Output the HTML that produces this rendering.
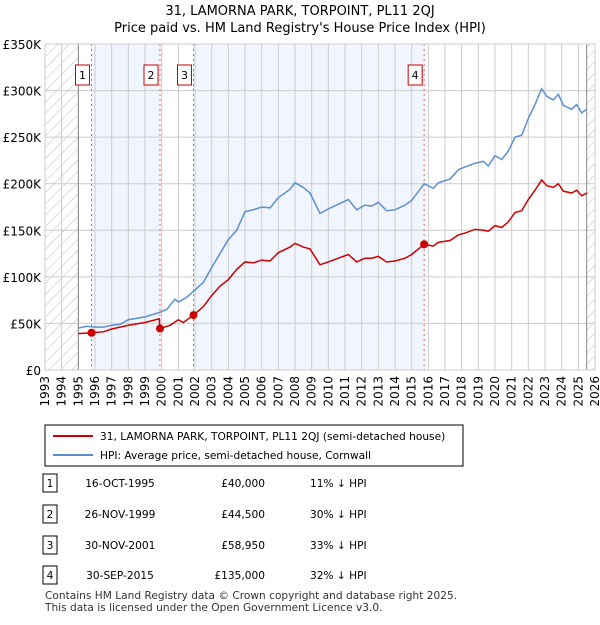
<!DOCTYPE html>
<html><head><meta charset="utf-8"><style>
body{margin:0;background:#fff;font-family:"Liberation Sans","DejaVu Sans",sans-serif;}
svg text{font-family:"DejaVu Sans","Liberation Sans",sans-serif;}
</style></head><body>
<svg id="c" width="600" height="620" xmlns="http://www.w3.org/2000/svg">
<defs><pattern id="h" width="8" height="8" patternUnits="userSpaceOnUse" patternTransform="rotate(45)"><line x1="0" y1="0" x2="0" y2="8" stroke="#bbb" stroke-width="1"/></pattern></defs>
<text x="300" y="15" text-anchor="middle" font-size="13">31, LAMORNA PARK, TORPOINT, PL11 2QJ</text>
<text x="300" y="32" text-anchor="middle" font-size="13">Price paid vs. HM Land Registry's House Price Index (HPI)</text>
<g id="plot"></g>
<g>
<rect x="45" y="425" width="418" height="41" fill="#fff" stroke="#000" stroke-width="1"/>
<line x1="53" y1="436" x2="93" y2="436" stroke="#cc0000" stroke-width="2"/>
<text x="100" y="440" font-size="10.6">31, LAMORNA PARK, TORPOINT, PL11 2QJ (semi-detached house)</text>
<line x1="53" y1="455" x2="93" y2="455" stroke="#5b8fd0" stroke-width="2"/>
<text x="100" y="459" font-size="10.6">HPI: Average price, semi-detached house, Cornwall</text>
</g>
<g id="tbl" font-size="10.6"></g>
<text x="45" y="599" font-size="10.6" fill="#333">Contains HM Land Registry data © Crown copyright and database right 2025.</text>
<text x="45" y="611" font-size="10.6" fill="#333">This data is licensed under the Open Government Licence v3.0.</text>
</svg>
<script>
const hpiYears=[1995,1995.5,1996,1996.5,1997,1997.5,1998,1999,1999.9,2000.3,2000.8,2001,2001.5,2002,2002.5,2003,2003.5,2004,2004.5,2005,2005.5,2006,2006.5,2007,2007.7,2008,2008.5,2008.9,2009.5,2010,2010.6,2011.2,2011.7,2012.2,2012.6,2013,2013.5,2014,2014.6,2015,2015.75,2016.3,2016.6,2017.3,2017.8,2018.2,2018.8,2019.3,2019.6,2020,2020.4,2020.8,2021.2,2021.6,2022,2022.4,2022.8,2023.1,2023.5,2023.8,2024.1,2024.6,2024.9,2025.2,2025.5];
const hpiValues=[45,47,46,46,48,49,54,57,62,65,76,73,78,86,94,110,125,140,150,170,172,175,174,185,194,201,196,190,168,173,178,183,172,177,176,180,171,172,177,182,200,195,201,205,215,218,222,224,219,230,226,235,250,252,270,285,302,294,290,296,284,280,285,276,280];
const priceYears=[1995,1995.79,1996.5,1997,1998,1999,1999.85,1999.9,2000.5,2001,2001.3,2001.91,2002.5,2003,2003.5,2004,2004.5,2005,2005.5,2006,2006.5,2007,2007.7,2008,2008.5,2008.9,2009.5,2010,2010.6,2011.2,2011.7,2012.2,2012.6,2013,2013.5,2014,2014.6,2015,2015.75,2016.3,2016.6,2017.3,2017.8,2018.2,2018.8,2019.3,2019.6,2020,2020.4,2020.8,2021.2,2021.6,2022,2022.4,2022.8,2023.1,2023.5,2023.8,2024.1,2024.6,2024.9,2025.2,2025.5];
const priceValues=[39,40,41,44,48,51,55,44.5,48,54,51,59,68,80,90,97,108,116,115,118,117,126,132,136,132,130,113,116,120,124,116,120,120,122,116,117,120,124,135,133,137,139,145,147,151,150,149,155,153,159,169,171,183,193,204,198,196,200,192,190,193,187,190];
const saleYears=[1995.79,1999.9,2001.91,2015.75];
const salePrices=[40,44.5,58.95,135];
const saleLabels=["1","2","3","4"];
const saleDates=["16-OCT-1995","26-NOV-1999","30-NOV-2001","30-SEP-2015"];
const salePriceText=["£40,000","£44,500","£58,950","£135,000"];
const saleHpiText=["11% ↓ HPI","30% ↓ HPI","33% ↓ HPI","32% ↓ HPI"];
const yTicks=[0,50,100,150,200,250,300,350];
const yTickLabels=["£0","£50K","£100K","£150K","£200K","£250K","£300K","£350K"];
const X0=45,X1=595,Y0=370,Y1=44;
const x=t=>X0+(t-1993)/33*(X1-X0);
const y=v=>Y0-v/350*(Y0-Y1);
const NS="http://www.w3.org/2000/svg";
const P=document.getElementById('plot');
function mk(tag,a,par){const e=document.createElementNS(NS,tag);for(const k in a)e.setAttribute(k,a[k]);(par||P).appendChild(e);return e;}
let r=mk('rect',{x:X0,y:Y1,width:X1-X0,height:Y0-Y1,fill:'#fff'});


[[0,1],[2,3]].forEach(([a,b])=>{const s=mk('rect',{x:x(saleYears[a]),y:Y1,width:x(saleYears[b])-x(saleYears[a]),height:Y0-Y1,fill:'#eef3fc',opacity:0.8});

});
let h1=mk('rect',{x:X0,y:Y1,width:x(1995)-X0,height:Y0-Y1,fill:'url(#h)'});


let h2=mk('rect',{x:x(2025.5),y:Y1,width:X1-x(2025.5),height:Y0-Y1,fill:'url(#h)'});


for(let yr=1993;yr<=2026;yr++){const l=mk('line',{x1:x(yr),x2:x(yr),y1:Y1,y2:Y0,stroke:'#ccc','stroke-width':1});


const t=mk('text',{x:0,y:0,'font-size':12,'text-anchor':'end',transform:`translate(${x(yr)+4},${Y0+6}) rotate(-90)`});t.textContent=yr;

}
yTicks.forEach((v,i)=>{const l=mk('line',{x1:X0,x2:X1,y1:y(v),y2:y(v),stroke:'#ccc','stroke-width':1});


const t=mk('text',{x:X0-4,y:y(v)+5,'font-size':12,'text-anchor':'end'});t.textContent=yTickLabels[i];

});
[x(1995),x(2025.5)].forEach(xx=>{const l=mk('line',{x1:xx,x2:xx,y1:Y1,y2:Y0,stroke:'#888','stroke-width':1});

});
saleYears.forEach((t,i)=>{const l=mk('line',{x1:x(t),x2:x(t),y1:Y1,y2:Y0,stroke:'#f06060','stroke-width':1,'stroke-dasharray':'2,3'});


const b=mk('rect',{x:x(t)-16,y:65,width:14,height:20,fill:'#fff',stroke:'#cc0000'});


const tx=mk('text',{x:x(t)-9,y:79,'font-size':11,'text-anchor':'middle'});tx.textContent=saleLabels[i];

});
const hp=mk('polyline',{points:hpiYears.map((t,i)=>x(t)+','+y(hpiValues[i])).join(' '),fill:'none',stroke:'#5b8fd0','stroke-width':1.5});


const pp=mk('polyline',{points:priceYears.map((t,i)=>x(t)+','+y(priceValues[i])).join(' '),fill:'none',stroke:'#cc0000','stroke-width':1.5});


saleYears.forEach((t,i)=>{const c=mk('circle',{cx:x(t),cy:y(salePrices[i]),r:4,fill:'#cc0000'});

});
const fr=mk('rect',{x:X0,y:Y1,width:X1-X0,height:Y0-Y1,fill:'none',stroke:'#ccc'});


const T=document.getElementById('tbl');
const rowsY=[483,514,545,575];
rowsY.forEach((ry,i)=>{const b=mk('rect',{x:43,y:ry-9,width:14,height:18,fill:'#fff',stroke:'#000'},T);


const cells=[[50,saleLabels[i],'middle'],[120,saleDates[i],'middle'],[265,salePriceText[i],'end'],[310,saleHpiText[i],'start']];
cells.forEach(([cx,s,a])=>{const t=mk('text',{x:cx,y:ry+4,'text-anchor':a},T);t.textContent=s;

});});
</script>
</body></html>
